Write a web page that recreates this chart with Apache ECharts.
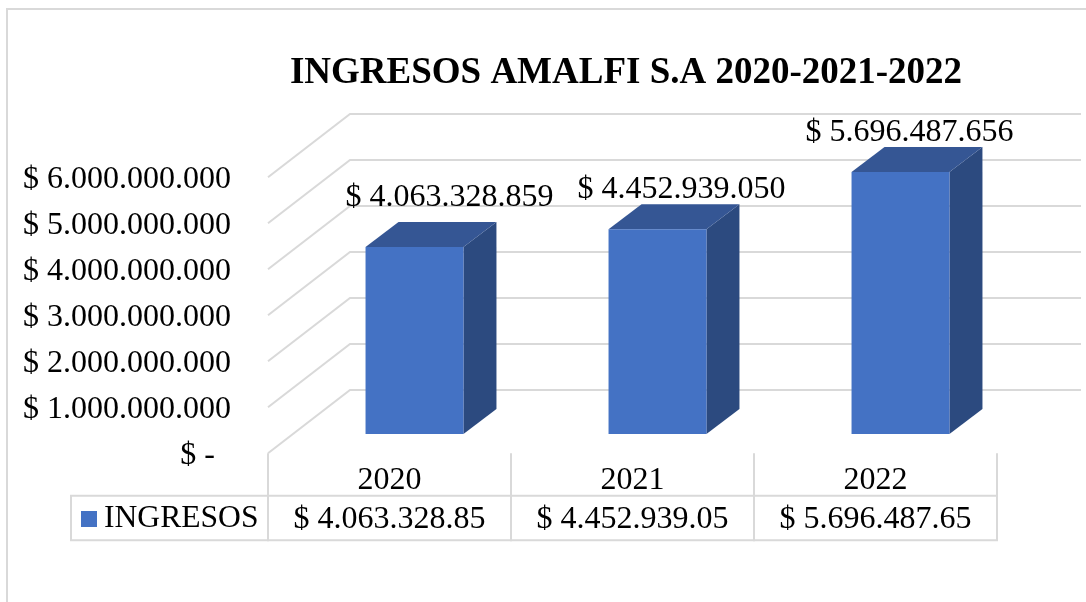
<!DOCTYPE html>
<html><head><meta charset="utf-8">
<style>html,body{margin:0;padding:0;background:#fff}#c{width:1086px;height:602px}</style>
<script src="https://cdn.jsdelivr.net/npm/echarts@6/dist/echarts.min.js"></script>
</head><body><div id="c"></div>
<script>
const categories = ['2020', '2021', '2022'];
const ingresos = [4063328859, 4452939050, 5696487656];
const barLabels = ['$ 4.063.328.859', '$ 4.452.939.050', '$ 5.696.487.656'];
const tableLabels = ['$ 4.063.328.85', '$ 4.452.939.05', '$ 5.696.487.65'];
const yTicks = [0, 1000000000, 2000000000, 3000000000, 4000000000, 5000000000, 6000000000];
const titleText = 'INGRESOS AMALFI S.A 2020-2021-2022';
const seriesName = 'INGRESOS';
// manual placement of the data labels, relative to the bar's top back edge centre
const labelShiftX = [35, 24, 9];
const labelShiftY = [-24, -15, -14];

const FONT = '"Liberation Serif","Times New Roman",serif';
const FS = 32;
const GRID = '#D9D9D9';
const LW = 2;
const chart = echarts.init(document.getElementById('c'), null, {renderer:'canvas'});

function fmt(v){
  if (v === 0) return '{a|$ -\u00A0\u00A0}';
  return '{a|$ ' + String(v).replace(/\B(?=(\d{3})+(?!\d))/g, '.') + '}';
}
function renderWall(p, api){
  const y = api.coord([0, api.value(0)]);
  const cs = p.coordSys;
  const yb = y[1] - 63.3;
  return {type:'polyline', silent:true,
    shape:{points:[[cs.x, y[1]],[cs.x+82, yb],[cs.x+cs.width+84, yb]]},
    style:{stroke:GRID, lineWidth:LW, fill:null}};
}
function renderBar(params, api){
  const i = api.value(0), v = api.value(1);
  const c = api.coord([i, v]), z = api.coord([i, 0]);
  const w = api.size([1,0])[0] * 0.403;
  const ox = 25, oy = 19.3, dx = 33, dy = 25;
  const l = c[0] - w/2 + ox, r = l + w, t = c[1] - oy, b = z[1] - oy;
  return {type:'group', children:[
    {type:'polygon', shape:{points:[[r,t],[r+dx,t-dy],[r+dx,b-dy],[r,b]]}, style:{fill:'#2C4A7F'}},
    {type:'polygon', shape:{points:[[l,t],[l+dx,t-dy],[r+dx,t-dy],[r,t]]}, style:{fill:'#355694'}},
    {type:'rect', shape:{x:l, y:t, width:w, height:b-t}, style:{fill:'#4472C4'}},
    {type:'text', z2:10, style:{text:barLabels[i], x:l+w/2+labelShiftX[i], y:t-dy+labelShiftY[i],
      align:'center', verticalAlign:'middle', font:FS+'px '+FONT, fill:'#000'}}
  ]};
}
function renderTable(params, api){
  const i = api.value(0);
  const z = api.coord([i, 0]);
  const band = api.size([1,0])[0];
  const top = z[1] + 42.5, h = 44.5;
  const cell = {stroke:GRID, lineWidth:LW, fill:null};
  const kids = [
    {type:'rect', shape:{x:z[0]-band/2, y:top, width:band, height:h}, style:cell},
    {type:'text', style:{text:tableLabels[i], x:z[0], y:top+h/2+1.5, align:'center', verticalAlign:'middle',
      font:FS+'px '+FONT, fill:'#000'}}
  ];
  if (i === 0) kids.push({type:'rect', shape:{x:71, y:top, width:z[0]-band/2-71, height:h}, style:cell});
  return {type:'group', children:kids};
}

chart.setOption({
  animation:false,
  backgroundColor:'#fff',
  title:{text:titleText, left:621, top:50, textAlign:'center',
    textStyle:{fontFamily:FONT, fontWeight:'bold', fontSize:37, color:'#000'}},
  legend:{data:[seriesName], left:81, top:503, padding:0, itemWidth:16, itemHeight:16, icon:'rect',
    selectedMode:false, textStyle:{fontFamily:FONT, fontSize:31.6, color:'#000', padding:[1,0,0,2]}},
  graphic:[{type:'polyline', silent:true, z:-1,
    shape:{points:[[7,602],[7,9],[1086,9]]}, style:{stroke:GRID, lineWidth:LW, fill:null}}],
  grid:{left:268, top:177.3, width:729, height:276},
  xAxis:{type:'category', data:categories,
    axisLine:{show:false},
    axisTick:{show:true, length:42.5, lineStyle:{color:GRID, width:LW}},
    axisLabel:{fontFamily:FONT, fontSize:FS, color:'#000', margin:11}},
  yAxis:{type:'value', min:0, max:6000000000, interval:1000000000,
    axisLine:{show:false}, axisTick:{show:false}, splitLine:{show:false},
    axisLabel:{margin:37, formatter:fmt,
      rich:{a:{fontFamily:FONT, fontSize:FS, color:'#000', padding:[4,0,0,0]}}}},
  series:[
    {name:'paredes', type:'custom', coordinateSystem:'cartesian2d', clip:false, z:1, silent:true,
     encode:{y:0}, renderItem:renderWall, data:yTicks.map(v=>[v])},
    {name:seriesName, type:'custom', coordinateSystem:'cartesian2d', clip:false, z:3,
     itemStyle:{color:'#4472C4'}, encode:{x:0,y:1}, renderItem:renderBar,
     data:ingresos.map((v,i)=>[i,v])},
    {name:'tabla', type:'custom', coordinateSystem:'cartesian2d', clip:false, z:2, silent:true,
     encode:{x:0}, renderItem:renderTable, data:categories.map((c,i)=>[i])}
  ]
});
</script></body></html>
